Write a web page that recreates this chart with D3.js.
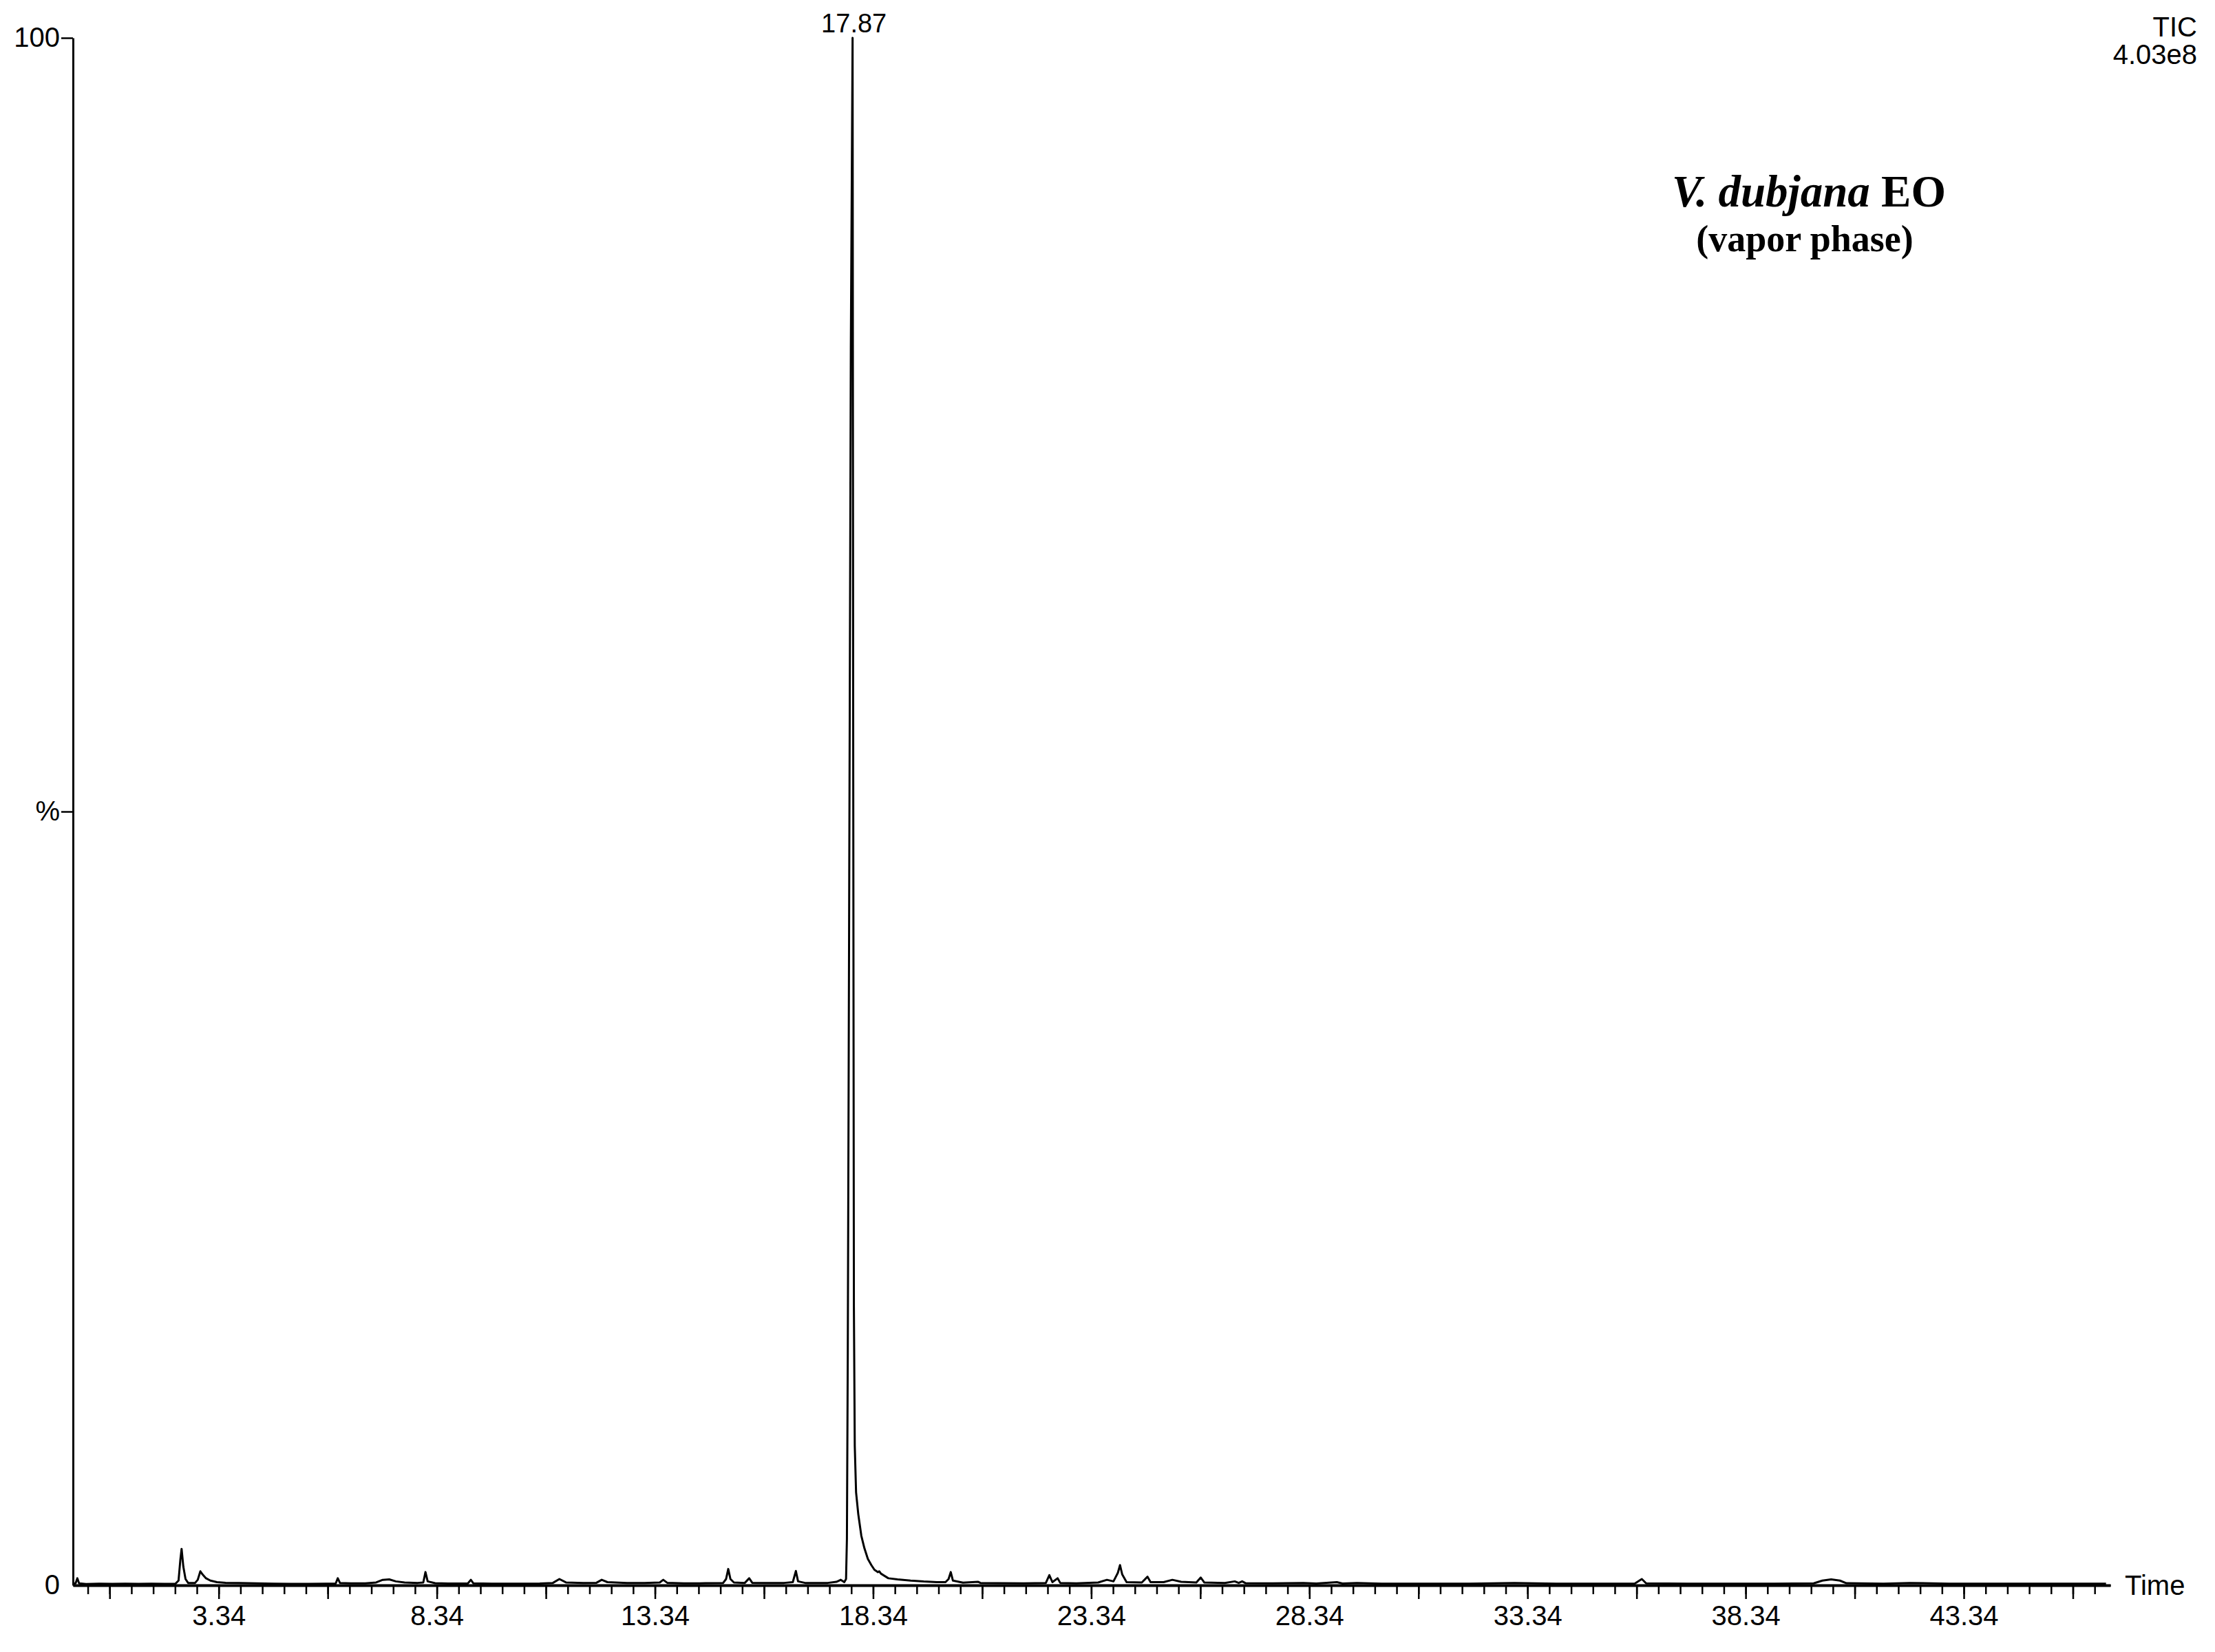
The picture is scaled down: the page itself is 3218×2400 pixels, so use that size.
<!DOCTYPE html>
<html>
<head>
<meta charset="utf-8">
<script src="https://cdn.jsdelivr.net/npm/d3@7"></script>
<style>
  body { margin: 0; background: #fff; }
  text { font-family: "Liberation Sans", Arial, sans-serif; fill: #000; }
</style>
</head>
<body>
<svg id="canvas"></svg>
<script>
// retention time (min) and relative abundance (%)
const rt = [
  0.00, 0.06, 0.10, 0.14, 0.30, 0.60, 0.90, 1.20, 1.50, 1.80, 2.10, 2.35,
  2.42, 2.46, 2.49, 2.53, 2.58, 2.64, 2.80, 2.86, 2.92, 2.97, 3.05, 3.15,
  3.30, 3.50, 3.80, 4.20, 4.60, 5.00, 5.40, 5.80, 6.02, 6.07, 6.12, 6.40,
  6.70, 6.95, 7.10, 7.25, 7.40, 7.60, 7.90, 8.03, 8.08, 8.13, 8.30, 8.60,
  9.05, 9.12, 9.18, 9.60, 10.20, 10.70, 11.00, 11.15, 11.30, 11.70, 12.00, 12.12,
  12.25, 12.70, 13.10, 13.45, 13.53, 13.62, 14.00, 14.50, 14.90, 14.97, 15.02, 15.07,
  15.15, 15.40, 15.50, 15.57, 15.90, 16.30, 16.50, 16.57, 16.62, 16.80, 17.30, 17.50,
  17.60, 17.68, 17.72, 17.74, 17.76, 17.78, 17.80, 17.83, 17.87, 17.885, 17.90, 17.92,
  17.95, 18.00, 18.07, 18.14, 18.22, 18.30, 18.37, 18.45, 18.48, 18.52, 18.69, 18.90,
  19.20, 19.50, 19.80, 20.00, 20.07, 20.12, 20.17, 20.40, 20.75, 20.80, 21.20, 21.80,
  22.30, 22.38, 22.45, 22.57, 22.63, 23.00, 23.50, 23.70, 23.85, 23.95, 24.00, 24.05,
  24.15, 24.50, 24.63, 24.70, 25.00, 25.20, 25.40, 25.75, 25.85, 25.93, 26.40, 26.63,
  26.72, 26.80, 26.88, 27.50, 28.20, 28.50, 28.97, 29.10, 29.43, 30.00, 31.00, 32.00,
  33.04, 34.00, 35.00, 35.80, 35.96, 36.06, 37.00, 38.00, 39.00, 39.90, 40.10, 40.30,
  40.50, 40.65, 41.50, 42.10, 43.00, 44.00, 45.00, 46.00, 46.60
]
const abundance = [
  0.10, 0.12, 0.45, 0.12, 0.08, 0.10, 0.09, 0.10, 0.09, 0.10, 0.09, 0.10,
  0.30, 1.60, 2.35, 1.20, 0.40, 0.15, 0.15, 0.35, 0.90, 0.70, 0.45, 0.30,
  0.20, 0.16, 0.14, 0.12, 0.10, 0.09, 0.09, 0.10, 0.10, 0.45, 0.15, 0.12,
  0.12, 0.18, 0.35, 0.38, 0.25, 0.18, 0.15, 0.18, 0.85, 0.25, 0.13, 0.11,
  0.11, 0.35, 0.12, 0.10, 0.10, 0.11, 0.15, 0.40, 0.18, 0.15, 0.16, 0.35,
  0.20, 0.15, 0.14, 0.18, 0.35, 0.16, 0.12, 0.13, 0.14, 0.40, 1.05, 0.40,
  0.18, 0.15, 0.45, 0.16, 0.14, 0.15, 0.20, 0.92, 0.25, 0.14, 0.15, 0.22,
  0.35, 0.20, 0.40, 3.0, 15, 33, 52, 80, 100, 52, 18, 9,
  6.0, 4.6, 3.2, 2.4, 1.7, 1.3, 1.0, 0.85, 0.90, 0.75, 0.45, 0.38,
  0.30, 0.24, 0.20, 0.20, 0.40, 0.85, 0.30, 0.17, 0.22, 0.15, 0.13, 0.12,
  0.15, 0.65, 0.20, 0.45, 0.15, 0.12, 0.18, 0.35, 0.25, 0.80, 1.30, 0.70,
  0.20, 0.18, 0.55, 0.20, 0.20, 0.35, 0.22, 0.18, 0.50, 0.18, 0.14, 0.25,
  0.15, 0.25, 0.13, 0.12, 0.15, 0.11, 0.20, 0.11, 0.15, 0.10, 0.10, 0.10,
  0.15, 0.10, 0.10, 0.11, 0.40, 0.12, 0.10, 0.10, 0.10, 0.12, 0.30, 0.38,
  0.30, 0.13, 0.10, 0.15, 0.10, 0.10, 0.10, 0.10, 0.10
]

const xLabels = ["3.34", "8.34", "13.34", "18.34", "23.34", "28.34", "33.34", "38.34", "43.34"]
const yLabels = { 0: "0", 50: "%", 100: "100" }
const peakLabel = { time: 17.87, text: "17.87" }
const traceName = ["TIC", "4.03e8"]

const width = 3218
const height = 2400
const margin = { top: 55, right: 152, bottom: 97, left: 106 }

let canvas = d3.select("#canvas")
canvas.attr("width", width).attr("height", height)

let xScale = d3.scaleLinear()
  .domain([0, 46.7])
  .range([margin.left, width - margin.right])
let yScale = d3.scaleLinear()
  .domain([0, 100])
  .range([height - margin.bottom, margin.top])

// ticks every 0.5 min, long ones every 2.5 min
let minorTicks = d3.range(0.34, 46.7, 0.5)
let longTicks = d3.range(0.84, 46.7, 2.5)

let drawAxes = () => {
  let base = height - margin.bottom

  let xMinor = d3.axisBottom(xScale).tickValues(minorTicks).tickSize(13).tickSizeOuter(0).tickFormat("")
  let gMinor = canvas.append("g").attr("transform", `translate(0, ${base})`).call(xMinor)

  let xLong = d3.axisBottom(xScale).tickValues(longTicks).tickSize(20).tickSizeOuter(0).tickPadding(10)
    .tickFormat(d => {
      let s = d.toFixed(2)
      return xLabels.includes(s) ? s : ""
    })
  let gLong = canvas.append("g").attr("transform", `translate(0, ${base})`).call(xLong)

  let yAxis = d3.axisLeft(yScale).tickValues([0, 50, 100]).tickSize(17).tickSizeOuter(0).tickPadding(2)
    .tickFormat(d => yLabels[d])
  let gY = canvas.append("g").attr("transform", `translate(${margin.left}, 0)`).call(yAxis)
  gY.selectAll(".tick").filter(d => d === 0).select("line").remove()

  ;[gMinor, gLong, gY].forEach(g => {
    g.select(".domain").attr("stroke", "#000").attr("stroke-width", 3)
    g.selectAll(".tick line").attr("stroke", "#000").attr("stroke-width", 2.5)
    g.selectAll("text").attr("font-size", 40).attr("font-family", "Liberation Sans, Arial, sans-serif").attr("fill", "#000")
  })
  gMinor.select(".domain").attr("stroke-width", 4)

  canvas.append("text")
    .attr("x", xScale.range()[1] + 21)
    .attr("y", base)
    .attr("dy", "0.36em")
    .attr("font-size", 40)
    .text("Time")
}

let drawTrace = () => {
  let line = d3.line()
    .x((d, i) => xScale(rt[i]))
    .y(d => yScale(d))
  canvas.append("path")
    .datum(abundance)
    .attr("d", line)
    .attr("fill", "none")
    .attr("stroke", "#000")
    .attr("stroke-width", 3)
    .attr("stroke-linejoin", "round")

  canvas.append("text")
    .attr("x", xScale(peakLabel.time) + 2)
    .attr("y", yScale(100) - 8)
    .attr("text-anchor", "middle")
    .attr("font-size", 38)
    .text(peakLabel.text)
}

let drawLabels = () => {
  canvas.selectAll(".tic")
    .data(traceName)
    .enter()
    .append("text")
    .attr("x", 3192)
    .attr("y", (d, i) => 53 + i * 40)
    .attr("text-anchor", "end")
    .attr("font-size", 40)
    .text(d => d)

  let title = canvas.append("text")
    .attr("x", 2628)
    .attr("y", 300)
    .attr("text-anchor", "middle")
    .attr("font-size", 65)
    .style("font-family", "Liberation Serif, serif")
    .attr("font-weight", "bold")
  title.append("tspan").attr("font-style", "italic").text("V. dubjana")
  title.append("tspan").text(" EO")

  canvas.append("text")
    .attr("x", 2622)
    .attr("y", 365)
    .attr("text-anchor", "middle")
    .attr("font-size", 54)
    .style("font-family", "Liberation Serif, serif")
    .attr("font-weight", "bold")
    .text("(vapor phase)")
}

drawAxes()
drawTrace()
drawLabels()
</script>
</body>
</html>
